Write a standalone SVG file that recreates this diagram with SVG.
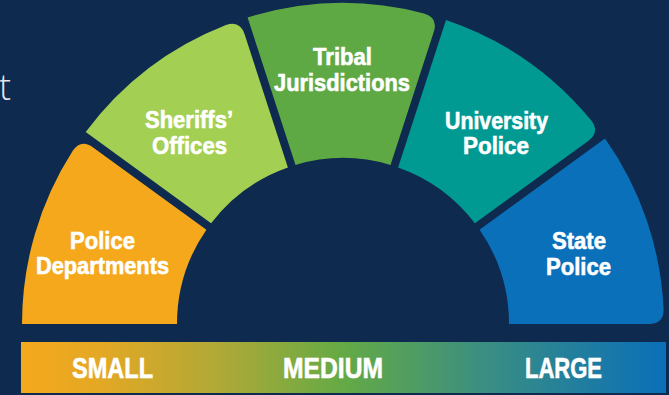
<svg xmlns="http://www.w3.org/2000/svg" width="669" height="395" viewBox="0 0 669 395">
  <defs>
    <linearGradient id="sizeGrad" x1="0" y1="0" x2="1" y2="0">
      <stop offset="0" stop-color="#f5a81c"/>
      <stop offset="0.12" stop-color="#e4a824"/>
      <stop offset="0.3" stop-color="#b2a936"/>
      <stop offset="0.5" stop-color="#64aa45"/>
      <stop offset="0.72" stop-color="#3a8e82"/>
      <stop offset="1" stop-color="#0a6fb9"/>
    </linearGradient>
  </defs>
  <style>
    .lbl { font-family: "Liberation Sans", Arial, sans-serif; font-weight: bold; font-size: 23.5px; fill: #ffffff; stroke: #ffffff; stroke-width: 0.6px; }
    .bar { font-family: "Liberation Sans", Arial, sans-serif; font-weight: bold; font-size: 29px; fill: #ffffff; stroke: #ffffff; stroke-width: 0.6px; }
    .frag { font-family: "Open Sans", "DejaVu Sans", sans-serif; font-weight: 300; font-size: 36px; fill: #e3e8ee; }
  </style>
  <rect x="0" y="0" width="669" height="395" fill="#0f2a4f"/>
  <text class="frag" x="11" y="100" text-anchor="end">t</text>

  <g id="police-departments">
    <path d="M22,324 A321,321 0 0 1 72.6,151.0 Q81.0,138.6 93.1,147.4 L206.4,229.7 A166,166 0 0 0 177,324 Z" fill="#f5a81c"/>
    <text class="lbl" x="70" y="249" textLength="65" lengthAdjust="spacingAndGlyphs">Police</text>
    <text class="lbl" x="36" y="274" textLength="133" lengthAdjust="spacingAndGlyphs">Departments</text>
  </g>

  <g id="sheriffs-offices">
    <path d="M85.7,132.1 A321,321 0 0 1 225.9,25.1 Q240.0,20.0 244.6,34.3 L287.9,167.4 A166,166 0 0 0 211.1,223.2 Z" fill="#a3cf52"/>
    <text class="lbl" x="145" y="128" textLength="88" lengthAdjust="spacingAndGlyphs">Sheriffs’</text>
    <text class="lbl" x="152" y="154" textLength="75" lengthAdjust="spacingAndGlyphs">Offices</text>
  </g>

  <g id="tribal-jurisdictions">
    <path d="M247.6,17.5 A321,321 0 0 1 424.0,13.4 Q438.4,17.5 433.8,31.8 L390.5,164.9 A166,166 0 0 0 295.5,164.9 Z" fill="#5fa944"/>
    <text class="lbl" x="313" y="65" textLength="59" lengthAdjust="spacingAndGlyphs">Tribal</text>
    <text class="lbl" x="274" y="91" textLength="136" lengthAdjust="spacingAndGlyphs">Jurisdictions</text>
  </g>

  <g id="university-police">
    <path d="M446.0,20.0 A321,321 0 0 1 591.1,120.3 Q600.3,132.1 588.2,140.9 L474.9,223.2 A166,166 0 0 0 398.1,167.4 Z" fill="#009a92"/>
    <text class="lbl" x="445" y="129" textLength="103" lengthAdjust="spacingAndGlyphs">University</text>
    <text class="lbl" x="463" y="154" textLength="66" lengthAdjust="spacingAndGlyphs">Police</text>
  </g>

  <g id="state-police">
    <path d="M605.0,138.6 A321,321 0 0 1 663.6,309.0 Q664,324 649,324 L509,324 A166,166 0 0 0 479.6,229.7 Z" fill="#0a70b9"/>
    <text class="lbl" x="552" y="249" textLength="54" lengthAdjust="spacingAndGlyphs">State</text>
    <text class="lbl" x="546" y="275" textLength="65" lengthAdjust="spacingAndGlyphs">Police</text>
  </g>

  <g id="size-scale">
    <rect x="21" y="342" width="645" height="51" fill="url(#sizeGrad)"/>
    <text class="bar" x="72" y="378" textLength="81" lengthAdjust="spacingAndGlyphs">SMALL</text>
    <text class="bar" x="283" y="378" textLength="100" lengthAdjust="spacingAndGlyphs">MEDIUM</text>
    <text class="bar" x="525" y="378" textLength="77" lengthAdjust="spacingAndGlyphs">LARGE</text>
  </g>
</svg>
